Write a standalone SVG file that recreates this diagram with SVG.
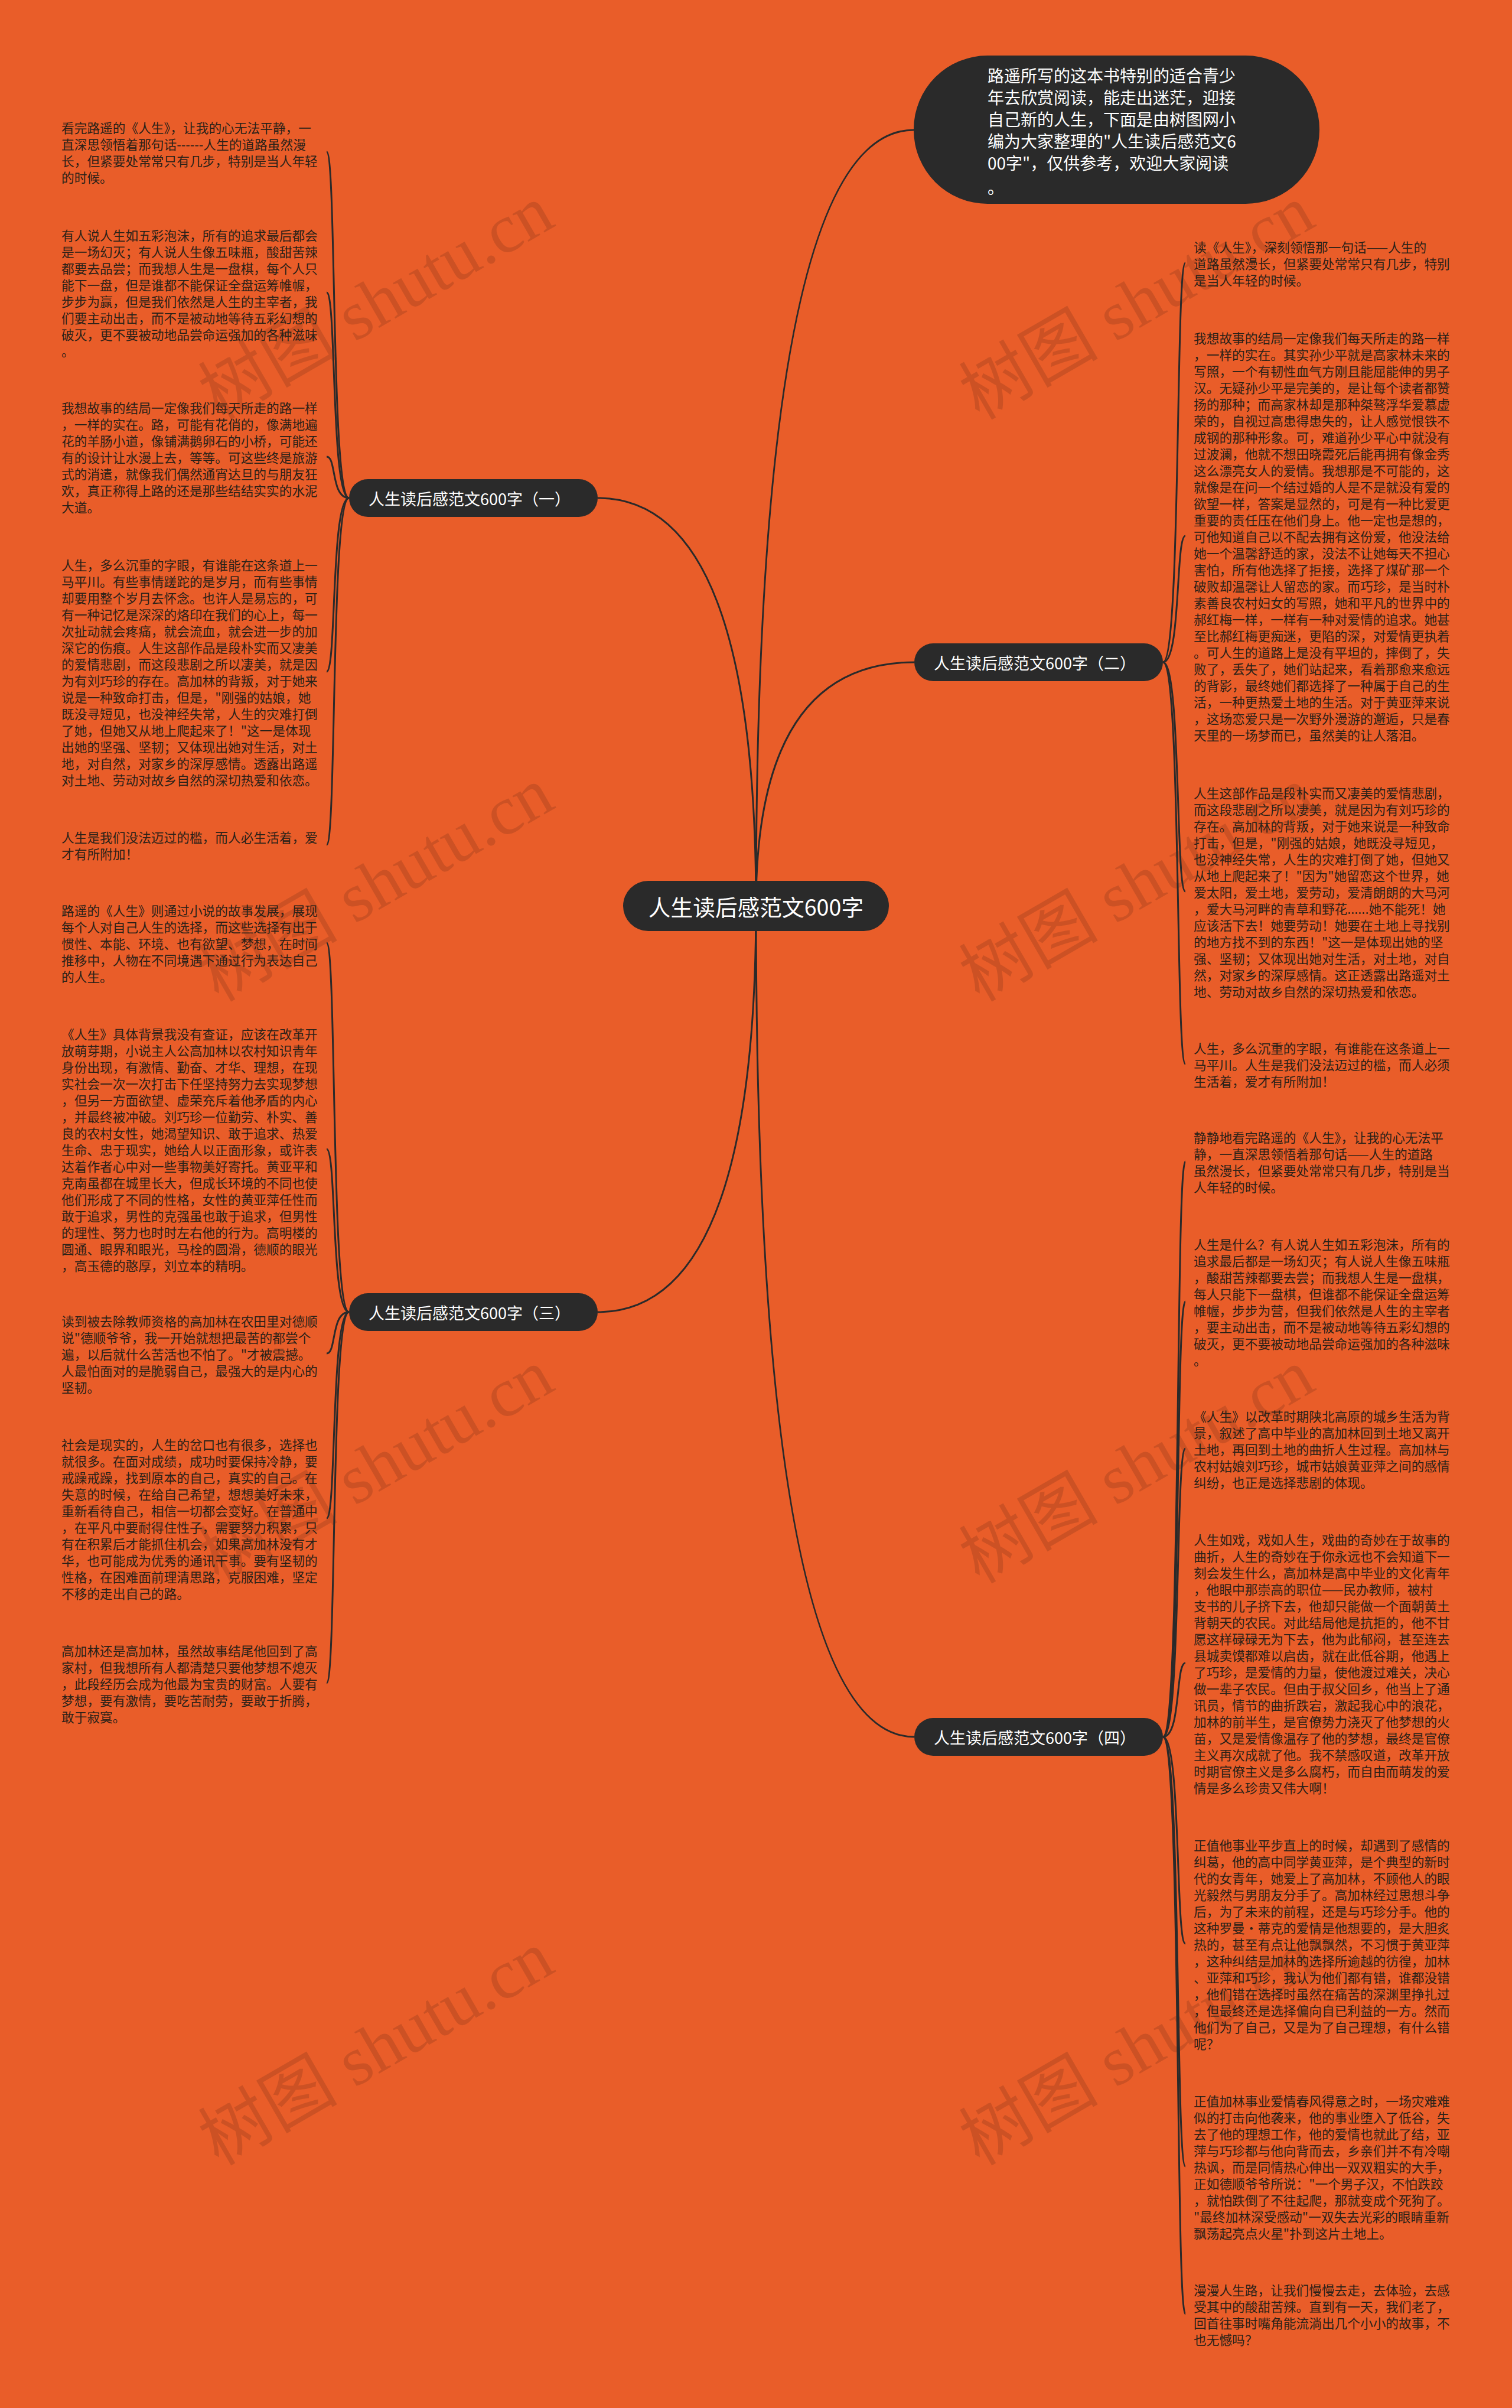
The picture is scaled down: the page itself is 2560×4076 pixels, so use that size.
<svg xmlns="http://www.w3.org/2000/svg" width="2560" height="4076" viewBox="0 0 2560 4076">
<style>
.bg{fill:#E95D29}
.node{fill:#2a2a2a}
.lbl{fill:#ffffff;font-family:"Noto Sans CJK SC","Noto Sans",sans-serif;dominant-baseline:central}
.t{fill:#2a2118;font-family:"Noto Sans CJK SC","Noto Sans",sans-serif;font-size:21.7px;dominant-baseline:central}
.wm{fill:#000;fill-opacity:0.12;font-family:"Liberation Serif","Noto Sans CJK SC",serif;font-size:118px}
.c{fill:none;stroke:#2a2a2a;stroke-width:3}
</style>
<rect class="bg" x="0" y="0" width="2560" height="4076"/>

<g id="watermarks">
<text class="wm" transform="translate(370,712) rotate(-30)">树图 shutu.cn</text>
<text class="wm" transform="translate(370,1697) rotate(-30)">树图 shutu.cn</text>
<text class="wm" transform="translate(370,2682) rotate(-30)">树图 shutu.cn</text>
<text class="wm" transform="translate(370,3667) rotate(-30)">树图 shutu.cn</text>
<text class="wm" transform="translate(1658,712) rotate(-30)">树图 shutu.cn</text>
<text class="wm" transform="translate(1658,1697) rotate(-30)">树图 shutu.cn</text>
<text class="wm" transform="translate(1658,2682) rotate(-30)">树图 shutu.cn</text>
<text class="wm" transform="translate(1658,3667) rotate(-30)">树图 shutu.cn</text>
</g>

<g id="connectors">
<path class="c" d="M1280 1533 Q1280 220 1547 220"/>
<path class="c" d="M1280 1533 Q1280 843 1012 843"/>
<path class="c" d="M1280 1533 Q1280 1121 1548 1121"/>
<path class="c" d="M1280 1533 Q1280 2221 1012 2221"/>
<path class="c" d="M1280 1533 Q1280 2940 1548 2940"/>
<path class="c" d="M591 843 C560 843 570 257 553 257"/>
<path class="c" d="M591 843 C560 843 570 495 553 495"/>
<path class="c" d="M591 843 C560 843 570 773 553 773"/>
<path class="c" d="M591 843 C560 843 570 1137 553 1137"/>
<path class="c" d="M591 843 C560 843 570 1430 553 1430"/>
<path class="c" d="M591 2221 C560 2221 570 1596 553 1596"/>
<path class="c" d="M591 2221 C560 2221 570 1945 553 1945"/>
<path class="c" d="M591 2221 C560 2221 570 2291 553 2291"/>
<path class="c" d="M591 2221 C560 2221 570 2570 553 2570"/>
<path class="c" d="M591 2221 C560 2221 570 2849 553 2849"/>
<path class="c" d="M1969 1121 C2000 1121 1990 445 2007 445"/>
<path class="c" d="M1969 1121 C2000 1121 1990 907 2007 907"/>
<path class="c" d="M1969 1121 C2000 1121 1990 1509 2007 1509"/>
<path class="c" d="M1969 1121 C2000 1121 1990 1801 2007 1801"/>
<path class="c" d="M1969 2940 C2000 2940 1990 1966 2007 1966"/>
<path class="c" d="M1969 2940 C2000 2940 1990 2203 2007 2203"/>
<path class="c" d="M1969 2940 C2000 2940 1990 2452 2007 2452"/>
<path class="c" d="M1969 2940 C2000 2940 1990 2815 2007 2815"/>
<path class="c" d="M1969 2940 C2000 2940 1990 3290 2007 3290"/>
<path class="c" d="M1969 2940 C2000 2940 1990 3667 2007 3667"/>
<path class="c" d="M1969 2940 C2000 2940 1990 3917 2007 3917"/>
</g>

<g id="center">
<rect class="node" x="1055" y="1491" width="450" height="85" rx="42.5"/>
<text class="lbl" x="1280" y="1533" font-size="37.7" text-anchor="middle">人生读后感范文600字</text>
</g>

<g id="intro">
<rect class="node" x="1547" y="94" width="687" height="251" rx="125"/>
<text class="lbl" font-size="28">
<tspan x="1672" y="127">路遥所写的这本书特别的适合青少</tspan>
<tspan x="1672" y="164">年去欣赏阅读，能走出迷茫，迎接</tspan>
<tspan x="1672" y="201">自己新的人生，下面是由树图网小</tspan>
<tspan x="1672" y="238">编为大家整理的"人生读后感范文6</tspan>
<tspan x="1672" y="275">00字"，仅供参考，欢迎大家阅读</tspan>
<tspan x="1672" y="316">。</tspan>
</text>
</g>

<g id="branch1">
<rect class="node" x="591" y="811" width="421" height="64" rx="32"/>
<text class="lbl" x="624" y="843" font-size="27">人生读后感范文600字（一）</text>
</g>
<g id="branch2">
<rect class="node" x="1548" y="1089" width="421" height="64" rx="32"/>
<text class="lbl" x="1581" y="1121" font-size="27">人生读后感范文600字（二）</text>
</g>
<g id="branch3">
<rect class="node" x="591" y="2189" width="421" height="64" rx="32"/>
<text class="lbl" x="624" y="2221" font-size="27">人生读后感范文600字（三）</text>
</g>
<g id="branch4">
<rect class="node" x="1548" y="2908" width="421" height="64" rx="32"/>
<text class="lbl" x="1581" y="2940" font-size="27">人生读后感范文600字（四）</text>
</g>

<g id="l1"><text class="t">
<tspan x="104" y="215">看完路遥的《人生》，让我的心无法平静，一</tspan>
<tspan x="104" dy="28">直深思领悟着那句话------人生的道路虽然漫</tspan>
<tspan x="104" dy="28">长，但紧要处常常只有几步，特别是当人年轻</tspan>
<tspan x="104" dy="28">的时候。</tspan>
</text></g>

<g id="l2"><text class="t">
<tspan x="104" y="397">有人说人生如五彩泡沫，所有的追求最后都会</tspan>
<tspan x="104" dy="28">是一场幻灭；有人说人生像五味瓶，酸甜苦辣</tspan>
<tspan x="104" dy="28">都要去品尝；而我想人生是一盘棋，每个人只</tspan>
<tspan x="104" dy="28">能下一盘，但是谁都不能保证全盘运筹帷幄，</tspan>
<tspan x="104" dy="28">步步为赢，但是我们依然是人生的主宰者，我</tspan>
<tspan x="104" dy="28">们要主动出击，而不是被动地等待五彩幻想的</tspan>
<tspan x="104" dy="28">破灭，更不要被动地品尝命运强加的各种滋味</tspan>
<tspan x="104" dy="28">。</tspan>
</text></g>

<g id="l3"><text class="t">
<tspan x="104" y="689">我想故事的结局一定像我们每天所走的路一样</tspan>
<tspan x="104" dy="28">，一样的实在。路，可能有花俏的，像满地遍</tspan>
<tspan x="104" dy="28">花的羊肠小道，像铺满鹅卵石的小桥，可能还</tspan>
<tspan x="104" dy="28">有的设计让水漫上去，等等。可这些终是旅游</tspan>
<tspan x="104" dy="28">式的消遣，就像我们偶然通宵达旦的与朋友狂</tspan>
<tspan x="104" dy="28">欢，真正称得上路的还是那些结结实实的水泥</tspan>
<tspan x="104" dy="28">大道。</tspan>
</text></g>

<g id="l4"><text class="t">
<tspan x="104" y="955">人生，多么沉重的字眼，有谁能在这条道上一</tspan>
<tspan x="104" dy="28">马平川。有些事情蹉跎的是岁月，而有些事情</tspan>
<tspan x="104" dy="28">却要用整个岁月去怀念。也许人是易忘的，可</tspan>
<tspan x="104" dy="28">有一种记忆是深深的烙印在我们的心上，每一</tspan>
<tspan x="104" dy="28">次扯动就会疼痛，就会流血，就会进一步的加</tspan>
<tspan x="104" dy="28">深它的伤痕。人生这部作品是段朴实而又凄美</tspan>
<tspan x="104" dy="28">的爱情悲剧，而这段悲剧之所以凄美，就是因</tspan>
<tspan x="104" dy="28">为有刘巧珍的存在。高加林的背叛，对于她来</tspan>
<tspan x="104" dy="28">说是一种致命打击，但是，"刚强的姑娘，她</tspan>
<tspan x="104" dy="28">既没寻短见，也没神经失常，人生的灾难打倒</tspan>
<tspan x="104" dy="28">了她，但她又从地上爬起来了！"这一是体现</tspan>
<tspan x="104" dy="28">出她的坚强、坚韧；又体现出她对生活，对土</tspan>
<tspan x="104" dy="28">地，对自然，对家乡的深厚感情。透露出路遥</tspan>
<tspan x="104" dy="28">对土地、劳动对故乡自然的深切热爱和依恋。</tspan>
</text></g>

<g id="l5"><text class="t">
<tspan x="104" y="1416">人生是我们没法迈过的槛，而人必生活着，爱</tspan>
<tspan x="104" dy="28">才有所附加！</tspan>
</text></g>

<g id="l6"><text class="t">
<tspan x="104" y="1540">路遥的《人生》则通过小说的故事发展，展现</tspan>
<tspan x="104" dy="28">每个人对自己人生的选择，而这些选择有出于</tspan>
<tspan x="104" dy="28">惯性、本能、环境、也有欲望、梦想，在时间</tspan>
<tspan x="104" dy="28">推移中，人物在不同境遇下通过行为表达自己</tspan>
<tspan x="104" dy="28">的人生。</tspan>
</text></g>

<g id="l7"><text class="t">
<tspan x="104" y="1749">《人生》具体背景我没有查证，应该在改革开</tspan>
<tspan x="104" dy="28">放萌芽期，小说主人公高加林以农村知识青年</tspan>
<tspan x="104" dy="28">身份出现，有激情、勤奋、才华、理想，在现</tspan>
<tspan x="104" dy="28">实社会一次一次打击下任坚持努力去实现梦想</tspan>
<tspan x="104" dy="28">，但另一方面欲望、虚荣充斥着他矛盾的内心</tspan>
<tspan x="104" dy="28">，并最终被冲破。刘巧珍一位勤劳、朴实、善</tspan>
<tspan x="104" dy="28">良的农村女性，她渴望知识、敢于追求、热爱</tspan>
<tspan x="104" dy="28">生命、忠于现实，她给人以正面形象，或许表</tspan>
<tspan x="104" dy="28">达着作者心中对一些事物美好寄托。黄亚平和</tspan>
<tspan x="104" dy="28">克南虽都在城里长大，但成长环境的不同也使</tspan>
<tspan x="104" dy="28">他们形成了不同的性格，女性的黄亚萍任性而</tspan>
<tspan x="104" dy="28">敢于追求，男性的克强虽也敢于追求，但男性</tspan>
<tspan x="104" dy="28">的理性、努力也时时左右他的行为。高明楼的</tspan>
<tspan x="104" dy="28">圆通、眼界和眼光，马栓的圆滑，德顺的眼光</tspan>
<tspan x="104" dy="28">，高玉德的憨厚，刘立本的精明。</tspan>
</text></g>

<g id="l8"><text class="t">
<tspan x="104" y="2235">读到被去除教师资格的高加林在农田里对德顺</tspan>
<tspan x="104" dy="28">说"德顺爷爷，我一开始就想把最苦的都尝个</tspan>
<tspan x="104" dy="28">遍，以后就什么苦活也不怕了。"才被震撼。</tspan>
<tspan x="104" dy="28">人最怕面对的是脆弱自己，最强大的是内心的</tspan>
<tspan x="104" dy="28">坚韧。</tspan>
</text></g>

<g id="l9"><text class="t">
<tspan x="104" y="2444">社会是现实的，人生的岔口也有很多，选择也</tspan>
<tspan x="104" dy="28">就很多。在面对成绩，成功时要保持冷静，要</tspan>
<tspan x="104" dy="28">戒躁戒躁，找到原本的自己，真实的自己。在</tspan>
<tspan x="104" dy="28">失意的时候，在给自己希望，想想美好未来，</tspan>
<tspan x="104" dy="28">重新看待自己，相信一切都会变好。在普通中</tspan>
<tspan x="104" dy="28">，在平凡中要耐得住性子，需要努力积累，只</tspan>
<tspan x="104" dy="28">有在积累后才能抓住机会，如果高加林没有才</tspan>
<tspan x="104" dy="28">华，也可能成为优秀的通讯干事。要有坚韧的</tspan>
<tspan x="104" dy="28">性格，在困难面前理清思路，克服困难，坚定</tspan>
<tspan x="104" dy="28">不移的走出自己的路。</tspan>
</text></g>

<g id="l10"><text class="t">
<tspan x="104" y="2793">高加林还是高加林，虽然故事结尾他回到了高</tspan>
<tspan x="104" dy="28">家村，但我想所有人都清楚只要他梦想不熄灭</tspan>
<tspan x="104" dy="28">，此段经历会成为他最为宝贵的财富。人要有</tspan>
<tspan x="104" dy="28">梦想，要有激情，要吃苦耐劳，要敢于折腾，</tspan>
<tspan x="104" dy="28">敢于寂寞。</tspan>
</text></g>

<g id="r1"><text class="t">
<tspan x="2021" y="417">读《人生》，深刻领悟那一句话——人生的</tspan>
<tspan x="2021" dy="28">道路虽然漫长，但紧要处常常只有几步，特别</tspan>
<tspan x="2021" dy="28">是当人年轻的时候。</tspan>
</text></g>

<g id="r2"><text class="t">
<tspan x="2021" y="571">我想故事的结局一定像我们每天所走的路一样</tspan>
<tspan x="2021" dy="28">，一样的实在。其实孙少平就是高家林未来的</tspan>
<tspan x="2021" dy="28">写照，一个有韧性血气方刚且能屈能伸的男子</tspan>
<tspan x="2021" dy="28">汉。无疑孙少平是完美的，是让每个读者都赞</tspan>
<tspan x="2021" dy="28">扬的那种；而高家林却是那种桀骜浮华爱慕虚</tspan>
<tspan x="2021" dy="28">荣的，自视过高患得患失的，让人感觉恨铁不</tspan>
<tspan x="2021" dy="28">成钢的那种形象。可，难道孙少平心中就没有</tspan>
<tspan x="2021" dy="28">过波澜，他就不想田晓霞死后能再拥有像金秀</tspan>
<tspan x="2021" dy="28">这么漂亮女人的爱情。我想那是不可能的，这</tspan>
<tspan x="2021" dy="28">就像是在问一个结过婚的人是不是就没有爱的</tspan>
<tspan x="2021" dy="28">欲望一样，答案是显然的，可是有一种比爱更</tspan>
<tspan x="2021" dy="28">重要的责任压在他们身上。他一定也是想的，</tspan>
<tspan x="2021" dy="28">可他知道自己以不配去拥有这份爱，他没法给</tspan>
<tspan x="2021" dy="28">她一个温馨舒适的家，没法不让她每天不担心</tspan>
<tspan x="2021" dy="28">害怕，所有他选择了拒接，选择了煤矿那一个</tspan>
<tspan x="2021" dy="28">破败却温馨让人留恋的家。而巧珍，是当时朴</tspan>
<tspan x="2021" dy="28">素善良农村妇女的写照，她和平凡的世界中的</tspan>
<tspan x="2021" dy="28">郝红梅一样，一样有一种对爱情的追求。她甚</tspan>
<tspan x="2021" dy="28">至比郝红梅更痴迷，更陷的深，对爱情更执着</tspan>
<tspan x="2021" dy="28">。可人生的道路上是没有平坦的，摔倒了，失</tspan>
<tspan x="2021" dy="28">败了，丢失了，她们站起来，看着那愈来愈远</tspan>
<tspan x="2021" dy="28">的背影，最终她们都选择了一种属于自己的生</tspan>
<tspan x="2021" dy="28">活，一种更热爱土地的生活。对于黄亚萍来说</tspan>
<tspan x="2021" dy="28">，这场恋爱只是一次野外漫游的邂逅，只是春</tspan>
<tspan x="2021" dy="28">天里的一场梦而已，虽然美的让人落泪。</tspan>
</text></g>

<g id="r3"><text class="t">
<tspan x="2021" y="1341">人生这部作品是段朴实而又凄美的爱情悲剧，</tspan>
<tspan x="2021" dy="28">而这段悲剧之所以凄美，就是因为有刘巧珍的</tspan>
<tspan x="2021" dy="28">存在。高加林的背叛，对于她来说是一种致命</tspan>
<tspan x="2021" dy="28">打击，但是，"刚强的姑娘，她既没寻短见，</tspan>
<tspan x="2021" dy="28">也没神经失常，人生的灾难打倒了她，但她又</tspan>
<tspan x="2021" dy="28">从地上爬起来了！"因为"她留恋这个世界，她</tspan>
<tspan x="2021" dy="28">爱太阳，爱土地，爱劳动，爱清朗朗的大马河</tspan>
<tspan x="2021" dy="28">，爱大马河畔的青草和野花......她不能死！她</tspan>
<tspan x="2021" dy="28">应该活下去！她要劳动！她要在土地上寻找别</tspan>
<tspan x="2021" dy="28">的地方找不到的东西！"这一是体现出她的坚</tspan>
<tspan x="2021" dy="28">强、坚韧；又体现出她对生活，对土地，对自</tspan>
<tspan x="2021" dy="28">然，对家乡的深厚感情。这正透露出路遥对土</tspan>
<tspan x="2021" dy="28">地、劳动对故乡自然的深切热爱和依恋。</tspan>
</text></g>

<g id="r4"><text class="t">
<tspan x="2021" y="1773">人生，多么沉重的字眼，有谁能在这条道上一</tspan>
<tspan x="2021" dy="28">马平川。人生是我们没法迈过的槛，而人必须</tspan>
<tspan x="2021" dy="28">生活着，爱才有所附加！</tspan>
</text></g>

<g id="r5"><text class="t">
<tspan x="2021" y="1924">静静地看完路遥的《人生》，让我的心无法平</tspan>
<tspan x="2021" dy="28">静，一直深思领悟着那句话——人生的道路</tspan>
<tspan x="2021" dy="28">虽然漫长，但紧要处常常只有几步，特别是当</tspan>
<tspan x="2021" dy="28">人年轻的时候。</tspan>
</text></g>

<g id="r6"><text class="t">
<tspan x="2021" y="2105">人生是什么？有人说人生如五彩泡沫，所有的</tspan>
<tspan x="2021" dy="28">追求最后都是一场幻灭；有人说人生像五味瓶</tspan>
<tspan x="2021" dy="28">，酸甜苦辣都要去尝；而我想人生是一盘棋，</tspan>
<tspan x="2021" dy="28">每人只能下一盘棋，但谁都不能保证全盘运筹</tspan>
<tspan x="2021" dy="28">帷幄，步步为营，但我们依然是人生的主宰者</tspan>
<tspan x="2021" dy="28">，要主动出击，而不是被动地等待五彩幻想的</tspan>
<tspan x="2021" dy="28">破灭，更不要被动地品尝命运强加的各种滋味</tspan>
<tspan x="2021" dy="28">。</tspan>
</text></g>

<g id="r7"><text class="t">
<tspan x="2021" y="2396">《人生》以改革时期陕北高原的城乡生活为背</tspan>
<tspan x="2021" dy="28">景，叙述了高中毕业的高加林回到土地又离开</tspan>
<tspan x="2021" dy="28">土地，再回到土地的曲折人生过程。高加林与</tspan>
<tspan x="2021" dy="28">农村姑娘刘巧珍，城市姑娘黄亚萍之间的感情</tspan>
<tspan x="2021" dy="28">纠纷，也正是选择悲剧的体现。</tspan>
</text></g>

<g id="r8"><text class="t">
<tspan x="2021" y="2605">人生如戏，戏如人生，戏曲的奇妙在于故事的</tspan>
<tspan x="2021" dy="28">曲折，人生的奇妙在于你永远也不会知道下一</tspan>
<tspan x="2021" dy="28">刻会发生什么，高加林是高中毕业的文化青年</tspan>
<tspan x="2021" dy="28">，他眼中那崇高的职位——民办教师，被村</tspan>
<tspan x="2021" dy="28">支书的儿子挤下去，他却只能做一个面朝黄土</tspan>
<tspan x="2021" dy="28">背朝天的农民。对此结局他是抗拒的，他不甘</tspan>
<tspan x="2021" dy="28">愿这样碌碌无为下去，他为此郁闷，甚至连去</tspan>
<tspan x="2021" dy="28">县城卖馍都难以启齿，就在此低谷期，他遇上</tspan>
<tspan x="2021" dy="28">了巧珍，是爱情的力量，使他渡过难关，决心</tspan>
<tspan x="2021" dy="28">做一辈子农民。但由于叔父回乡，他当上了通</tspan>
<tspan x="2021" dy="28">讯员，情节的曲折跌宕，激起我心中的浪花，</tspan>
<tspan x="2021" dy="28">加林的前半生，是官僚势力浇灭了他梦想的火</tspan>
<tspan x="2021" dy="28">苗，又是爱情像温存了他的梦想，最终是官僚</tspan>
<tspan x="2021" dy="28">主义再次成就了他。我不禁感叹道，改革开放</tspan>
<tspan x="2021" dy="28">时期官僚主义是多么腐朽，而自由而萌发的爱</tspan>
<tspan x="2021" dy="28">情是多么珍贵又伟大啊！</tspan>
</text></g>

<g id="r9"><text class="t">
<tspan x="2021" y="3122">正值他事业平步直上的时候，却遇到了感情的</tspan>
<tspan x="2021" dy="28">纠葛，他的高中同学黄亚萍，是个典型的新时</tspan>
<tspan x="2021" dy="28">代的女青年，她爱上了高加林，不顾他人的眼</tspan>
<tspan x="2021" dy="28">光毅然与男朋友分手了。高加林经过思想斗争</tspan>
<tspan x="2021" dy="28">后，为了未来的前程，还是与巧珍分手。他的</tspan>
<tspan x="2021" dy="28">这种罗曼·蒂克的爱情是他想要的，是大胆炙</tspan>
<tspan x="2021" dy="28">热的，甚至有点让他飘飘然，不习惯于黄亚萍</tspan>
<tspan x="2021" dy="28">，这种纠结是加林的选择所逾越的彷徨，加林</tspan>
<tspan x="2021" dy="28">、亚萍和巧珍，我认为他们都有错，谁都没错</tspan>
<tspan x="2021" dy="28">，他们错在选择时虽然在痛苦的深渊里挣扎过</tspan>
<tspan x="2021" dy="28">，但最终还是选择偏向自已利益的一方。然而</tspan>
<tspan x="2021" dy="28">他们为了自己，又是为了自己理想，有什么错</tspan>
<tspan x="2021" dy="28">呢？</tspan>
</text></g>

<g id="r10"><text class="t">
<tspan x="2021" y="3555">正值加林事业爱情春风得意之时，一场灾难难</tspan>
<tspan x="2021" dy="28">似的打击向他袭来，他的事业堕入了低谷，失</tspan>
<tspan x="2021" dy="28">去了他的理想工作，他的爱情也就此了结，亚</tspan>
<tspan x="2021" dy="28">萍与巧珍都与他向背而去，乡亲们并不有冷嘲</tspan>
<tspan x="2021" dy="28">热讽，而是同情热心伸出一双双粗实的大手，</tspan>
<tspan x="2021" dy="28">正如德顺爷爷所说："一个男子汉，不怕跌跤</tspan>
<tspan x="2021" dy="28">，就怕跌倒了不往起爬，那就变成个死狗了。</tspan>
<tspan x="2021" dy="28">"最终加林深受感动"一双失去光彩的眼睛重新</tspan>
<tspan x="2021" dy="28">飘荡起亮点火星"扑到这片土地上。</tspan>
</text></g>

<g id="r11"><text class="t">
<tspan x="2021" y="3875">漫漫人生路，让我们慢慢去走，去体验，去感</tspan>
<tspan x="2021" dy="28">受其中的酸甜苦辣。直到有一天，我们老了，</tspan>
<tspan x="2021" dy="28">回首往事时嘴角能流淌出几个小小的故事，不</tspan>
<tspan x="2021" dy="28">也无憾吗？</tspan>
</text></g>
</svg>
